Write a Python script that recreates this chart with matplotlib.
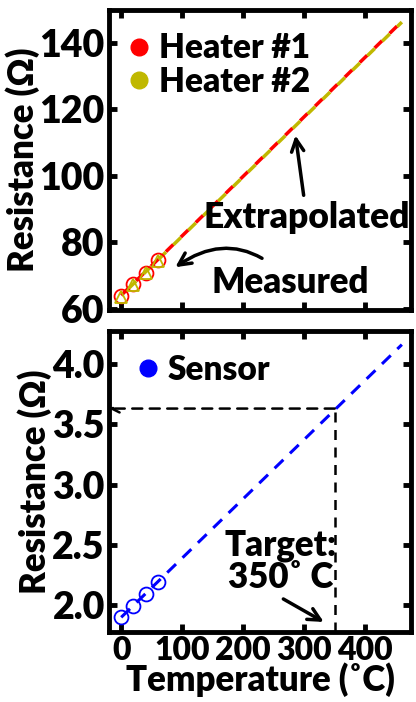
import numpy as np
import matplotlib.pyplot as plt
from matplotlib.lines import Line2D

plt.rcParams['font.family'] = ['Lato', 'DejaVu Sans']
plt.rcParams['font.weight'] = 'heavy'

# measured points
temp_meas = [0, 20, 40, 60]
heater1 = [63.8, 67.3, 70.8, 74.6]
heater2 = [63.5, 67.0, 70.6, 74.3]
sensor = [1.90, 1.99, 2.09, 2.19]

# extrapolated lines
temp_fit = [0, 460]
heater1_fit = [64.0, 146.5]
heater2_fit = [63.9, 146.3]
sensor_fit = [1.90, 4.16]

target_t = 350
target_r = 3.63

fig = plt.figure(figsize=(4.16, 7.02), dpi=100)
ax1 = fig.add_axes([0.262, 0.558, 0.726, 0.428])
ax2 = fig.add_axes([0.262, 0.100, 0.726, 0.428])

for ax in (ax1, ax2):
    for s in ax.spines.values():
        s.set_linewidth(3.5)
    ax.tick_params(direction='in', length=6, width=3.5, top=True, right=True,
                   labelsize=27, pad=3)
    ax.tick_params(axis='x', labelsize=23)
    ax.set_xlim(-20, 475)
    ax.set_xticks([0, 100, 200, 300, 400])

# top panel
ax1.plot(temp_fit, heater1_fit, color='red', ls=(0, (3, 3)), lw=2.5)
ax1.plot(temp_fit, heater2_fit, color='#c0b800', ls=(3, (3, 3)), lw=2.5)
ax1.plot(temp_meas, heater1, 'o', mfc='none', mec='red', ms=10, mew=1.3)
ax1.plot(temp_meas, heater2, '^', mfc='none', mec='#c0b800', ms=8, mew=1.3)
ax1.set_ylim(59.5, 150)
ax1.set_yticks([60, 80, 100, 120, 140])
ax1.set_xticklabels([])
ax1.set_ylabel('Resistance (Ω)', fontsize=25, fontweight='heavy', labelpad=0)
h1 = [Line2D([], [], marker='o', ls='none', color='red', ms=12),
      Line2D([], [], marker='o', ls='none', color='#c0b800', ms=12)]
ax1.legend(h1, ['Heater #1', 'Heater #2'], loc='upper left', frameon=False,
           fontsize=24, handletextpad=0.1, borderaxespad=0.0, labelspacing=0.05,
           handlelength=1.0, bbox_to_anchor=(0.0, 0.97))
ax1.annotate('Extrapolated', xy=(285, 113), xytext=(304, 87.5), ha='center',
             va='center', fontsize=25.5, fontweight='heavy',
             arrowprops=dict(arrowstyle='->', lw=2.5, color='black',
                             mutation_scale=22, shrinkA=2))
ax1.annotate('Measured', xy=(85, 72), xytext=(277, 68), ha='center',
             va='center', fontsize=25, fontweight='heavy',
             arrowprops=dict(arrowstyle='->', lw=2.5, color='black',
                             mutation_scale=22, shrinkA=6,
                             connectionstyle='arc3,rad=0.45'),
             annotation_clip=False)

# bottom panel
ax2.plot(temp_fit, sensor_fit, color='blue', ls=(0, (4, 3)), lw=2.2)
ax2.plot(temp_meas, sensor, 'o', mfc='none', mec='blue', ms=10, mew=1.3)
ax2.set_ylim(1.78, 4.27)
ax2.set_yticks([2.0, 2.5, 3.0, 3.5, 4.0])
ax2.set_yticklabels(['2.0', '2.5', '3.0', '3.5', '4.0'])
ax2.set_ylabel('Resistance (Ω)', fontsize=25, fontweight='heavy', labelpad=0)
ax2.set_xlabel('Temperature (˚C)', fontsize=25, fontweight='heavy', labelpad=-2)
ax2.plot([target_t, target_t], [1.78, target_r], color='black', ls=(0, (4, 3)), lw=1.8)
ax2.annotate('', xy=(-20, target_r), xytext=(target_t, target_r),
             arrowprops=dict(arrowstyle='->', lw=1.8, ls=(0, (4, 3)),
                             color='black', shrinkA=0, shrinkB=0,
                             mutation_scale=14))
h2 = [Line2D([], [], marker='o', ls='none', color='blue', ms=12)]
ax2.legend(h2, ['Sensor'], loc='upper left', frameon=False, fontsize=24,
           handletextpad=0.1, handlelength=1.0, borderaxespad=0.0,
           bbox_to_anchor=(0.03, 0.97))
ax2.annotate('Target:\n350˚ C', xy=(336, 1.85), xytext=(261, 2.36),
             ha='center', va='center', fontsize=25, fontweight='heavy',
             linespacing=0.95,
             arrowprops=dict(arrowstyle='->', lw=2.5, color='black',
                             mutation_scale=22, shrinkA=3,
                             relpos=(0.45, 0.0)))

fig.savefig('out.png', dpi=100)
